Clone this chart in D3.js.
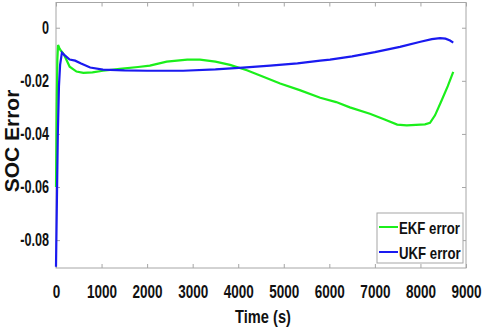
<!DOCTYPE html>
<html>
<head>
<meta charset="utf-8">
<script src="https://cdn.jsdelivr.net/npm/d3@7"></script>
<style>
  body { margin: 0; background: #fff; }
  svg { display: block; }
</style>
</head>
<body>
<svg id="chart"></svg>
<script>
// time (s) / SOC error
const ekfTime = [0, 15, 30, 45, 70, 100, 150, 200, 300, 450, 600, 800, 1030, 1400, 1800, 2060, 2430, 2880, 3160, 3500, 3820, 4190, 4550, 4920, 5350, 5800, 6150, 6450, 6890, 7200, 7490, 7700, 7900, 8100, 8210, 8320, 8450, 8600, 8720];
const ekfError = [-0.06, -0.03, -0.012, -0.0065, -0.0075, -0.0085, -0.0095, -0.011, -0.0147, -0.0165, -0.017, -0.0168, -0.0162, -0.0155, -0.0148, -0.0143, -0.0128, -0.012, -0.012, -0.0128, -0.014, -0.016, -0.0185, -0.021, -0.0235, -0.0264, -0.028, -0.030, -0.0324, -0.0345, -0.0365, -0.0368, -0.0366, -0.0364, -0.0358, -0.033, -0.028, -0.022, -0.0166];

const ukfTime = [0, 20, 40, 65, 90, 130, 200, 300, 420, 550, 750, 1030, 1500, 2000, 2790, 3500, 4100, 4700, 5300, 5800, 6015, 6500, 7000, 7550, 8000, 8250, 8430, 8550, 8650, 8720];
const ukfError = [-0.09, -0.065, -0.04, -0.022, -0.014, -0.0094, -0.0105, -0.012, -0.0124, -0.0135, -0.015, -0.0158, -0.0161, -0.0162, -0.0162, -0.0157, -0.015, -0.0143, -0.0134, -0.0124, -0.012, -0.0108, -0.0092, -0.0072, -0.0053, -0.0043, -0.0039, -0.0041, -0.0048, -0.0056];

const xTicks = [0, 1000, 2000, 3000, 4000, 5000, 6000, 7000, 8000, 9000];
const yTicks = [0, -0.02, -0.04, -0.06, -0.08];
const yTickLabels = ['0', '-0.02', '-0.04', '-0.06', '-0.08'];

const seriesNames = ['EKF error', 'UKF error'];
const seriesColors = ['#1bef1b', '#1a1af0'];

const width = 484, height = 333;
const margin = {top: 2.5, right: 18, bottom: 65, left: 56};
const innerW = width - margin.left - margin.right;
const innerH = height - margin.top - margin.bottom;
const font = '"Liberation Sans", Arial, sans-serif';

// squeeze bold Liberation Sans so it looks like the narrow MATLAB font
function narrow(sel, factor) {
    sel.each(function() {
        const w = this.getComputedTextLength();
        d3.select(this)
            .attr('textLength', w * factor)
            .attr('lengthAdjust', 'spacingAndGlyphs');
    });
}

const svg = d3.select('#chart').attr('width', width).attr('height', height);
const chart = svg.append('g').attr('transform', `translate(${margin.left}, ${margin.top})`);

const xscale = d3.scaleLinear().domain([0, 9000]).range([0, innerW]);
const yscale = d3.scaleLinear().domain([-0.0905, 0.0095]).range([innerH, 0]);

const axisColor = '#a6a6a6';
const tickLen = 4;

// frame + ticks on all four sides
chart.append('rect')
    .attr('x', 0).attr('y', 0)
    .attr('width', innerW).attr('height', innerH)
    .attr('fill', 'none').attr('stroke', axisColor).attr('stroke-width', 1);

const xaxisB = d3.axisBottom(xscale).tickValues(xTicks).tickSizeInner(-tickLen).tickSizeOuter(0).tickPadding(17)
    .tickFormat(d3.format('d'));
const xaxisT = d3.axisTop(xscale).tickValues(xTicks).tickSizeInner(-tickLen).tickSizeOuter(0).tickFormat('');
const yaxisL = d3.axisLeft(yscale).tickValues(yTicks).tickSizeInner(-tickLen).tickSizeOuter(0).tickPadding(7)
    .tickFormat((d, i) => yTickLabels[i]);
const yaxisR = d3.axisRight(yscale).tickValues(yTicks).tickSizeInner(-tickLen).tickSizeOuter(0).tickFormat('');

const gxb = chart.append('g').attr('transform', `translate(0, ${innerH})`).call(xaxisB);
const gxt = chart.append('g').call(xaxisT);
const gyl = chart.append('g').call(yaxisL);
const gyr = chart.append('g').attr('transform', `translate(${innerW}, 0)`).call(yaxisR);

[gxb, gxt, gyl, gyr].forEach(g => {
    g.select('.domain').remove();
    g.selectAll('.tick line').attr('stroke', axisColor);
    g.selectAll('.tick text')
        .attr('fill', '#111')
        .style('font-family', font)
        .style('font-weight', 'bold')
        .style('font-size', '18px');
});
gxb.selectAll('.tick text').call(narrow, 0.75);
gyl.selectAll('.tick text').call(narrow, 0.7);

// lines
const line = d3.line()
    .x(d => xscale(d[0]))
    .y(d => yscale(d[1]));

const ekfData = ekfTime.map((t, i) => [t, ekfError[i]]);
const ukfData = ukfTime.map((t, i) => [t, ukfError[i]]);

chart.append('path')
    .datum(ekfData)
    .attr('fill', 'none')
    .attr('stroke', seriesColors[0])
    .attr('stroke-width', 2.2)
    .attr('d', line);

chart.append('path')
    .datum(ukfData)
    .attr('fill', 'none')
    .attr('stroke', seriesColors[1])
    .attr('stroke-width', 2.2)
    .attr('d', line);

// axis labels
svg.append('text')
    .attr('x', margin.left + innerW / 2 + 2)
    .attr('y', 323)
    .attr('text-anchor', 'middle')
    .style('font-family', font)
    .style('font-weight', 'bold')
    .style('font-size', '19px')
    .attr('fill', '#111')
    .text('Time (s)')
    .call(narrow, 0.77);

svg.append('text')
    .attr('transform', 'rotate(-90)')
    .attr('x', -141)
    .attr('y', 19)
    .attr('text-anchor', 'middle')
    .style('font-family', font)
    .style('font-weight', 'bold')
    .style('font-size', '21px')
    .attr('fill', '#111')
    .text('SOC Error');

// legend
const legend = svg.append('g').attr('transform', 'translate(377, 213)');
legend.append('rect')
    .attr('width', 86).attr('height', 50)
    .attr('fill', '#fff')
    .attr('stroke', axisColor);

seriesNames.forEach((name, i) => {
    const yy = 14 + i * 25;
    legend.append('line')
        .attr('x1', 2).attr('x2', 21)
        .attr('y1', yy).attr('y2', yy)
        .attr('stroke', seriesColors[i])
        .attr('stroke-width', 2);
    legend.append('text')
        .attr('x', 22)
        .attr('y', yy + 7)
        .style('font-family', font)
        .style('font-weight', 'bold')
        .style('font-size', '16.5px')
        .attr('fill', '#111')
        .text(name)
        .call(narrow, 0.8);
});
</script>
</body>
</html>
